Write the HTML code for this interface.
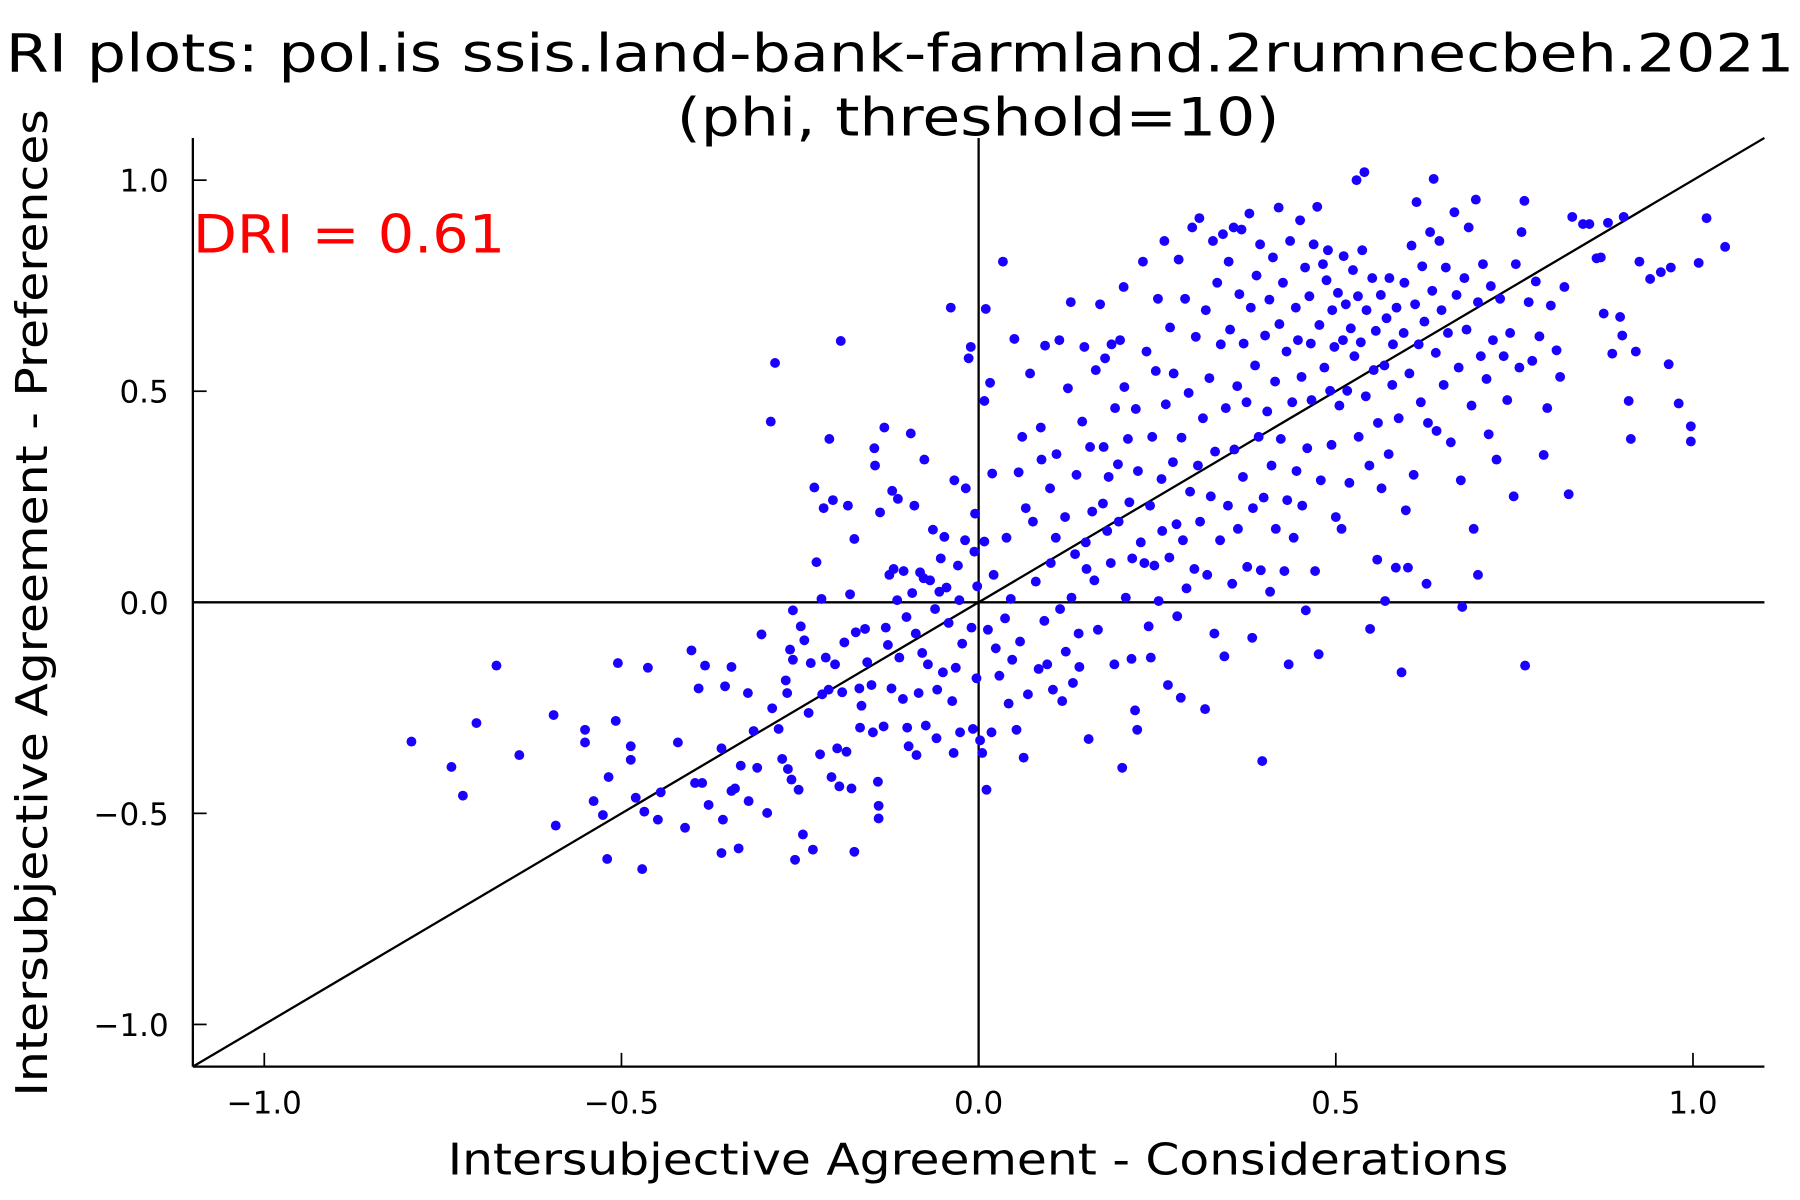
<!DOCTYPE html>
<html><head><meta charset="utf-8"><style>
html,body{margin:0;padding:0;background:#fff;}
svg{display:block;font-family:"DejaVu Sans","Liberation Sans",sans-serif;}
</style></head><body>
<svg id="chart" width="1800" height="1200" viewBox="0 0 1568 1045" xmlns="http://www.w3.org/2000/svg">
<rect width="1568" height="1045" fill="#fff"/>
<text x="784" y="62" font-size="46" text-anchor="middle" textLength="1558" lengthAdjust="spacingAndGlyphs">RI plots: pol.is ssis.land-bank-farmland.2rumnecbeh.2021</text>
<text x="852" y="118" font-size="46" text-anchor="middle" textLength="525" lengthAdjust="spacingAndGlyphs">(phi, threshold=10)</text>
<g id="axes"></g>
<g id="marks"></g>
<text x="168" y="220" font-size="46" fill="#ff0000" textLength="272" lengthAdjust="spacingAndGlyphs">DRI = 0.61</text>
<text x="852" y="1023" font-size="38" text-anchor="middle" textLength="924" lengthAdjust="spacingAndGlyphs">Intersubjective Agreement - Considerations</text>
<text transform="translate(41,525) rotate(-90)" font-size="38" text-anchor="middle" textLength="860" lengthAdjust="spacingAndGlyphs">Intersubjective Agreement - Preferences</text>
</svg>
<script>
const xTicks = [-1.0, -0.5, 0.0, 0.5, 1.0];
const yTicks = [-1.0, -0.5, 0.0, 0.5, 1.0];
const xTickLabels = ["\u22121.0", "\u22120.5", "0.0", "0.5", "1.0"];
const yTickLabels = ["\u22121.0", "\u22120.5", "0.0", "0.5", "1.0"];
const xDomain = [-1.1, 1.1];
const yDomain = [-1.1, 1.1];
const points = [
[-0.794,-0.33],[-0.738,-0.39],[-0.722,-0.458],[-0.703,-0.286],[-0.675,-0.15],[-0.643,-0.362],[-0.595,-0.267],[-0.592,-0.529],[-0.551,-0.302],[-0.551,-0.332],
[-0.539,-0.471],[-0.526,-0.504],[-0.52,-0.608],[-0.518,-0.414],[-0.508,-0.281],[-0.505,-0.144],[-0.487,-0.373],[-0.487,-0.341],[-0.48,-0.463],[-0.471,-0.632],
[-0.468,-0.496],[-0.463,-0.155],[-0.449,-0.515],[-0.445,-0.45],[-0.421,-0.332],[-0.411,-0.534],[-0.402,-0.114],[-0.397,-0.428],[-0.392,-0.204],[-0.387,-0.428],
[-0.383,-0.15],[-0.378,-0.48],[-0.36,-0.346],[-0.36,-0.594],[-0.358,-0.515],[-0.355,-0.199],[-0.346,-0.153],[-0.346,-0.447],[-0.341,-0.441],[-0.336,-0.583],
[-0.333,-0.387],[-0.323,-0.215],[-0.322,-0.471],[-0.315,-0.305],[-0.31,-0.392],[-0.304,-0.076],[-0.296,-0.499],[-0.289,-0.251],[-0.285,0.567],[-0.291,0.428],
[-0.28,-0.3],[-0.275,-0.371],[-0.27,-0.185],[-0.268,-0.215],[-0.267,-0.395],[-0.264,-0.112],[-0.262,-0.42],[-0.26,-0.019],[-0.26,-0.136],[-0.257,-0.61],
[-0.252,-0.444],[-0.249,-0.057],[-0.246,-0.55],[-0.244,-0.09],[-0.238,-0.262],[-0.235,-0.144],[-0.232,-0.586],[-0.23,0.272],[-0.227,0.095],[-0.222,-0.36],
[-0.22,0.008],[-0.219,-0.218],[-0.217,0.223],[-0.214,-0.131],[-0.21,-0.207],[-0.209,0.387],[-0.206,-0.414],[-0.204,0.242],[-0.201,-0.147],[-0.198,-0.346],
[-0.195,-0.436],[-0.193,0.619],[-0.191,-0.213],[-0.188,-0.095],[-0.185,-0.354],[-0.183,0.229],[-0.18,0.019],[-0.178,-0.441],[-0.174,-0.591],[-0.174,0.15],
[-0.172,-0.071],[-0.167,-0.204],[-0.166,-0.297],[-0.164,-0.245],[-0.159,-0.063],[-0.156,-0.142],[-0.15,-0.196],[-0.148,-0.308],[-0.146,0.365],[-0.145,0.324],
[-0.141,-0.425],[-0.14,-0.482],[-0.14,-0.512],[-0.138,0.213],[-0.133,-0.294],[-0.132,0.414],[-0.13,-0.06],[-0.127,-0.101],[-0.125,0.065],[-0.122,-0.204],
[-0.121,0.264],[-0.119,0.079],[-0.114,0.005],[-0.113,0.245],[-0.111,-0.131],[-0.106,-0.229],[-0.105,0.074],[-0.101,-0.035],[-0.1,-0.297],[-0.098,-0.341],
[-0.095,0.4],[-0.093,0.022],[-0.09,0.229],[-0.088,-0.074],[-0.087,-0.362],[-0.084,-0.215],[-0.082,0.071],[-0.079,-0.12],[-0.077,0.057],[-0.076,0.338],
[-0.074,-0.292],[-0.071,-0.147],[-0.068,0.052],[-0.064,0.172],[-0.061,-0.016],[-0.059,-0.322],[-0.058,-0.207],[-0.055,0.025],[-0.053,0.104],[-0.05,-0.166],
[-0.048,0.155],[-0.045,0.035],[-0.042,-0.049],[-0.039,0.698],[-0.037,-0.234],[-0.035,-0.357],[-0.034,0.289],[-0.032,-0.155],[-0.029,0.087],[-0.027,0.005],
[-0.026,-0.308],[-0.023,-0.098],[-0.019,0.147],[-0.018,0.27],[-0.014,0.578],[-0.011,0.605],[-0.01,-0.06],[-0.008,-0.3],[-0.006,0.12],[-0.005,0.21],
[-0.003,-0.18],[-0.002,0.038],[0.002,-0.327],[0.005,-0.357],[0.008,0.144],[0.008,0.477],[0.01,0.695],[0.011,-0.444],[0.013,-0.065],[0.016,0.52],
[0.018,-0.308],[0.019,0.305],[0.021,0.065],[0.024,-0.109],[0.029,-0.174],[0.034,0.807],[0.037,-0.038],[0.039,0.153],[0.042,-0.24],[0.045,0.008],
[0.047,-0.136],[0.05,0.624],[0.053,-0.302],[0.056,0.308],[0.058,-0.093],[0.061,0.392],[0.063,-0.368],[0.066,0.223],[0.069,-0.218],[0.072,0.542],
[0.076,0.191],[0.08,0.049],[0.084,-0.158],[0.087,0.414],[0.088,0.338],[0.092,-0.044],[0.093,0.608],[0.096,-0.147],[0.1,0.27],[0.101,0.093],
[0.104,-0.207],[0.108,0.153],[0.109,0.351],[0.113,0.621],[0.114,-0.016],[0.117,-0.234],[0.121,0.202],[0.122,-0.117],[0.125,0.507],[0.129,0.711],
[0.13,0.011],[0.132,-0.191],[0.135,0.114],[0.137,0.302],[0.14,-0.074],[0.141,-0.153],[0.145,0.428],[0.148,0.605],[0.15,0.142],[0.151,0.079],
[0.154,-0.324],[0.156,0.368],[0.159,0.215],[0.162,0.052],[0.164,0.55],[0.167,-0.065],[0.17,0.706],[0.174,0.234],[0.175,0.368],[0.177,0.578],
[0.18,0.169],[0.182,0.297],[0.185,0.093],[0.186,0.611],[0.19,-0.147],[0.191,0.46],[0.195,0.327],[0.196,0.191],[0.198,0.621],[0.201,-0.392],
[0.203,0.747],[0.204,0.51],[0.206,0.011],[0.209,0.387],[0.211,0.237],[0.214,-0.134],[0.215,0.104],[0.219,-0.256],[0.22,0.458],[0.222,-0.302],
[0.223,0.311],[0.227,0.142],[0.23,0.807],[0.232,0.093],[0.235,0.594],[0.238,-0.057],[0.24,0.229],[0.241,-0.131],[0.243,0.392],[0.246,0.087],
[0.248,0.548],[0.251,0.719],[0.252,0.003],[0.256,0.292],[0.257,0.169],[0.26,0.856],[0.262,0.469],[0.265,-0.196],[0.267,0.106],[0.268,0.651],
[0.272,0.332],[0.273,0.542],[0.277,0.185],[0.278,-0.033],[0.28,0.812],[0.283,-0.226],[0.284,0.39],[0.286,0.147],[0.289,0.719],[0.291,0.033],
[0.294,0.496],[0.296,0.262],[0.299,0.888],[0.302,0.079],[0.304,0.629],[0.307,0.324],[0.309,0.91],[0.31,0.191],[0.314,0.436],[0.317,-0.253],
[0.318,0.692],[0.32,0.065],[0.323,0.531],[0.325,0.251],[0.328,0.856],[0.33,-0.074],[0.331,0.357],[0.334,0.757],[0.338,0.147],[0.339,0.611],
[0.342,0.872],[0.344,-0.128],[0.346,0.46],[0.349,0.229],[0.35,0.807],[0.352,0.646],[0.355,0.044],[0.357,0.888],[0.358,0.362],[0.362,0.512],
[0.363,0.174],[0.365,0.73],[0.368,0.883],[0.37,0.297],[0.371,0.613],[0.375,0.474],[0.376,0.084],[0.379,0.921],[0.381,0.698],[0.383,-0.084],
[0.384,0.223],[0.387,0.561],[0.389,0.774],[0.392,0.392],[0.394,0.848],[0.395,0.076],[0.397,-0.376],[0.399,0.248],[0.401,0.632],[0.404,0.452],
[0.407,0.717],[0.408,0.025],[0.41,0.324],[0.412,0.817],[0.415,0.523],[0.416,0.174],[0.42,0.935],[0.421,0.659],[0.423,0.387],[0.426,0.757],
[0.428,0.074],[0.431,0.594],[0.432,0.242],[0.434,-0.147],[0.436,0.856],[0.439,0.474],[0.441,0.153],[0.444,0.698],[0.445,0.311],[0.447,0.621],
[0.45,0.905],[0.452,0.534],[0.453,0.229],[0.457,0.793],[0.458,-0.019],[0.46,0.365],[0.463,0.725],[0.465,0.613],[0.466,0.479],[0.469,0.848],
[0.471,0.074],[0.474,0.937],[0.476,-0.123],[0.477,0.657],[0.479,0.289],[0.482,0.801],[0.484,0.556],[0.487,0.763],[0.489,0.834],[0.492,0.501],
[0.494,0.373],[0.495,0.692],[0.498,0.605],[0.5,0.202],[0.503,0.733],[0.505,0.466],[0.508,0.174],[0.51,0.621],[0.511,0.82],[0.514,0.706],
[0.516,0.501],[0.519,0.283],[0.521,0.649],[0.524,0.787],[0.526,0.583],[0.529,1.0],[0.531,0.725],[0.532,0.392],[0.535,0.616],[0.537,0.834],
[0.54,1.019],[0.542,0.488],[0.543,0.692],[0.547,0.324],[0.548,-0.063],[0.551,0.768],[0.553,0.55],[0.556,0.643],[0.558,0.101],[0.559,0.425],
[0.563,0.728],[0.564,0.27],[0.568,0.561],[0.569,0.003],[0.571,0.673],[0.574,0.351],[0.575,0.768],[0.579,0.515],[0.58,0.611],[0.584,0.082],
[0.585,0.698],[0.588,0.436],[0.592,-0.166],[0.595,0.638],[0.596,0.757],[0.598,0.218],[0.601,0.082],[0.603,0.542],[0.606,0.845],[0.609,0.302],
[0.611,0.706],[0.613,0.948],[0.616,0.611],[0.619,0.474],[0.621,0.796],[0.624,0.665],[0.627,0.044],[0.629,0.425],[0.632,0.877],[0.635,0.738],
[0.637,1.003],[0.64,0.591],[0.641,0.406],[0.645,0.856],[0.648,0.692],[0.651,0.515],[0.654,0.793],[0.657,0.638],[0.661,0.379],[0.666,0.924],
[0.669,0.728],[0.672,0.556],[0.675,0.289],[0.677,-0.011],[0.68,0.768],[0.683,0.646],[0.686,0.888],[0.69,0.466],[0.693,0.174],[0.696,0.954],
[0.699,0.711],[0.699,0.065],[0.703,0.583],[0.706,0.801],[0.711,0.529],[0.714,0.398],[0.717,0.749],[0.72,0.621],[0.725,0.338],[0.73,0.719],
[0.735,0.583],[0.74,0.479],[0.744,0.638],[0.749,0.251],[0.752,0.801],[0.757,0.556],[0.76,0.877],[0.764,0.951],[0.765,-0.15],[0.77,0.711],
[0.775,0.572],[0.78,0.76],[0.785,0.63],[0.791,0.349],[0.796,0.46],[0.801,0.703],[0.809,0.597],[0.814,0.534],[0.82,0.747],[0.826,0.256],
[0.831,0.913],[0.846,0.896],[0.855,0.896],[0.865,0.815],[0.871,0.817],[0.875,0.684],[0.881,0.899],[0.887,0.589],[0.898,0.676],[0.901,0.632],
[0.903,0.913],[0.91,0.477],[0.913,0.387],[0.92,0.594],[0.925,0.807],[0.94,0.766],[0.955,0.782],[0.966,0.564],[0.969,0.793],[0.98,0.471],
[0.997,0.417],[0.997,0.381],[1.008,0.804],[1.019,0.91],[1.045,0.842]
];

const NS = "http://www.w3.org/2000/svg";
const plotL = 168, plotR = 1537, plotT = 120, plotB = 929;
function xScale(v){ return plotL + (v - xDomain[0]) / (xDomain[1] - xDomain[0]) * (plotR - plotL); }
function yScale(v){ return plotB - (v - yDomain[0]) / (yDomain[1] - yDomain[0]) * (plotB - plotT); }
function mk(tag, attrs){ const e = document.createElementNS(NS, tag); for (const k in attrs) e.setAttribute(k, attrs[k]); return e; }

const axes = document.getElementById("axes");
const marks = document.getElementById("marks");

let l = mk("line", {x1: plotL, y1: plotB, x2: plotR, y2: plotB, stroke: "#000", "stroke-width": 2});


axes.appendChild(l);
l = mk("line", {x1: plotL, y1: plotT, x2: plotL, y2: plotB, stroke: "#000", "stroke-width": 2});


axes.appendChild(l);

xTicks.forEach((t, i) => {
  const x = xScale(t);
  const tk = mk("line", {x1: x, y1: plotB, x2: x, y2: plotB - 12, stroke: "#000", "stroke-width": 1.5});
  
  
  axes.appendChild(tk);
  const tx = mk("text", {x: x, y: 970, "font-size": 27, "text-anchor": "middle"});
  tx.textContent = xTickLabels[i];
  
  
  axes.appendChild(tx);
});
yTicks.forEach((t, i) => {
  const y = yScale(t);
  const tk = mk("line", {x1: plotL, y1: y, x2: plotL + 12, y2: y, stroke: "#000", "stroke-width": 1.5});
  
  
  axes.appendChild(tk);
  const tx = mk("text", {x: 147, y: y + 10, "font-size": 27, "text-anchor": "end"});
  tx.textContent = yTickLabels[i];
  
  
  axes.appendChild(tx);
});

l = mk("line", {x1: plotL, y1: yScale(0), x2: plotR, y2: yScale(0), stroke: "#000", "stroke-width": 2});


axes.appendChild(l);
l = mk("line", {x1: xScale(0), y1: plotT, x2: xScale(0), y2: plotB, stroke: "#000", "stroke-width": 2});


axes.appendChild(l);
l = mk("line", {x1: xScale(xDomain[0]), y1: yScale(yDomain[0]), x2: xScale(xDomain[1]), y2: yScale(yDomain[1]), stroke: "#000", "stroke-width": 2});


axes.appendChild(l);

points.forEach(p => {
  const c = mk("circle", {cx: xScale(p[0]), cy: yScale(p[1]), r: 4.3, fill: "#1a00ff"});
  
  
  marks.appendChild(c);
});
</script>
</body></html>
